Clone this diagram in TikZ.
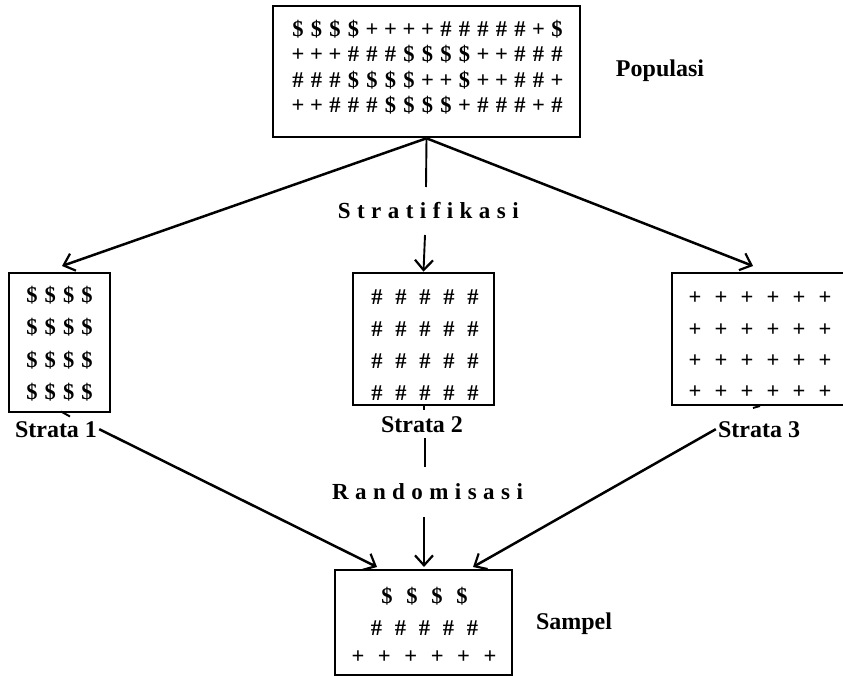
\documentclass[tikz,border=0pt]{standalone}
\usepackage{fontspec}
\setmainfont{Liberation Serif}
\newfontfamily\spacedfont[LetterSpace=28]{Liberation Serif}
\usetikzlibrary{arrows.meta}
\makeatletter
% one row of symbols, every symbol in a cell of fixed width
\newcommand\symrow[2]{\begingroup\def\sr@w{#1}\@tfor\sr@c:=#2\do{\makebox[\sr@w]{\sr@c}}\endgroup}
\makeatother
\begin{document}
\begin{tikzpicture}[x=1pt,y=-1pt,
  box/.style={draw, line width=2.6pt, inner sep=0pt},
  sym/.style={font=\fontsize{22.5}{22.5}\selectfont\bfseries, inner sep=0pt, anchor=base},
  lbl/.style={font=\fontsize{24}{24}\selectfont\bfseries, inner sep=1pt, anchor=base},
  spaced/.style={font=\spacedfont\fontsize{23}{23}\selectfont\bfseries, inner sep=0pt, anchor=base},
  conn/.style={line width=2.5pt},
  thin/.style={line width=1.9pt},
  arr/.style={conn, -{Straight Barb[length=10pt,width=18pt,line width=2.2pt]}}]
\useasboundingbox (0,0) rectangle (843,676);
\clip (0,0) rectangle (843,676);

% population
\node[box, minimum width=307pt, minimum height=131pt] (pop) at (426.5,71.5) {};
\node[sym] (p1) at (427.5,36.5) {\symrow{18.5pt}{\$\$\$\$++++\#\#\#\#\#+\$}};
\node[sym] (p2) at (427.5,62)   {\symrow{18.5pt}{+++\#\#\#\$\$\$\$++\#\#\#}};
\node[sym] (p3) at (427.5,87.5) {\symrow{18.5pt}{\#\#\#\$\$\$\$++\$++\#\#+}};
\node[sym] (p4) at (427.5,113)  {\symrow{18.5pt}{++\#\#\#\$\$\$\$+\#\#\#+\#}};
\node[lbl] (poplbl) at (660,77) {Populasi};

% strata 1
\node[box, minimum width=101pt, minimum height=139pt] (s1) at (59.5,342.5) {};
\node[sym] (a1) at (59.5,302) {\symrow{18.3pt}{\$\$\$\$}};
\node[sym] (a2) at (59.5,334) {\symrow{18.3pt}{\$\$\$\$}};
\node[sym] (a3) at (59.5,367) {\symrow{18.3pt}{\$\$\$\$}};
\node[sym] (a4) at (59.5,399) {\symrow{18.3pt}{\$\$\$\$}};
\node[lbl] (l1) at (56,437) {Strata 1};

% strata 2
\node[box, minimum width=141pt, minimum height=132pt] (s2) at (423.5,339) {};
\node[sym] (b1) at (425,305)   {\symrow{24pt}{\#\#\#\#\#}};
\node[sym] (b2) at (425,336.5) {\symrow{24pt}{\#\#\#\#\#}};
\node[sym] (b3) at (425,368)   {\symrow{24pt}{\#\#\#\#\#}};
\node[sym] (b4) at (425,400)   {\symrow{24pt}{\#\#\#\#\#}};
\node[lbl] (l2) at (422,432) {Strata 2};

% strata 3
\node[box, minimum width=190pt, minimum height=132pt] (s3) at (767,339) {};
\node[sym] (c1) at (760,305) {\symrow{26pt}{++++++}};
\node[sym] (c2) at (760,336) {\symrow{26pt}{++++++}};
\node[sym] (c3) at (760,367) {\symrow{26pt}{++++++}};
\node[sym] (c4) at (760,398) {\symrow{26pt}{++++++}};
\node[lbl] (l3) at (759,437) {Strata 3};

% sample
\node[box, minimum width=177pt, minimum height=105pt] (samp) at (423.5,622.5) {};
\node[sym] (d1) at (424.5,603) {\symrow{25pt}{\$\$\$\$}};
\node[sym] (d2) at (424.5,635) {\symrow{24pt}{\#\#\#\#\#}};
\node[sym] (d3) at (424,663)   {\symrow{26.4pt}{++++++}};
\node[lbl] (samplbl) at (574,629) {Sampel};

% step labels
\node[spaced] (strat) at (428.3,219) {Stratifikasi};
\node[spaced] (rand) at (427.5,499) {Randomisasi};

% end points of the connectors
\coordinate (t1) at (62,266);
\coordinate (t3) at (753,266);
\coordinate (v1) at (426,187);
\coordinate (v2) at (425,235);
\coordinate (r1) at (425,438);
\coordinate (r2) at (425,467);
\coordinate (r3) at (424,517);
\coordinate (in1) at (377,567);
\coordinate (in2) at (424,567);
\coordinate (in3) at (473,567);
\coordinate (k1) at (70,416.5);
\coordinate (k2) at (424,410);
\coordinate (k3) at (760,406);

% stratification
\draw[arr] (pop.south) -- (t1);
\draw[arr] (pop.south) -- (t3);
\draw[thin] (pop.south) -- (v1);
\draw[arr, thin] (v2) -- (s2.north);

% short stubs under the strata boxes
\draw[thin] (61,411.5) -- (k1);
\draw[thin] (424,405) -- (k2);
\draw[thin] (753,408) -- (k3);

% randomisation
\draw[arr] ([xshift=1pt]l1.east) -- (in1);
\draw[arr] ([xshift=-1pt]l3.west) -- (in3);
\draw[thin] (r1) -- (r2);
\draw[arr, thin] (r3) -- (in2);
\end{tikzpicture}
\end{document}
